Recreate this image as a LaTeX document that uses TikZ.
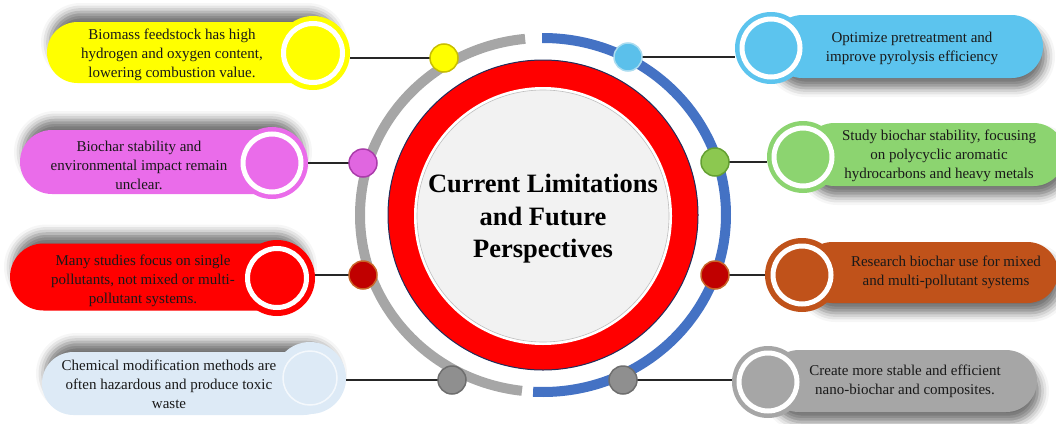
\documentclass[tikz,border=0pt]{standalone}
\usepackage{fontspec}
\setmainfont{Liberation Serif}
\usetikzlibrary{shapes.misc,shadows.blur}
\definecolor{cYel}{RGB}{255,255,0}
\definecolor{cMag}{RGB}{234,108,234}
\definecolor{cRed}{RGB}{255,0,0}
\definecolor{cLbl}{RGB}{221,234,246}
\definecolor{cSky}{RGB}{92,196,238}
\definecolor{cGrn}{RGB}{140,212,112}
\definecolor{cBrn}{RGB}{192,82,26}
\definecolor{cGry}{RGB}{166,166,166}
\definecolor{arcGray}{RGB}{166,166,166}
\definecolor{arcBlue}{RGB}{68,114,196}
\definecolor{navyEdge}{RGB}{31,45,90}
\definecolor{innerFill}{RGB}{242,242,242}
\begin{document}
\begin{tikzpicture}[x=1pt,y=-1pt,
  body/.style={rounded rectangle, inner sep=0pt, draw=none},
  endc/.style={circle, inner sep=0pt, draw=none},
  ring/.style={draw=white, line width=5pt},
  dotn/.style={circle, inner sep=0pt, minimum size=28pt, line width=1.5pt},
  txt/.style={align=center, font=\fontsize{15}{19}\selectfont, text=black!90, inner sep=0pt},
  link/.style={line width=1.4pt, draw=black!85},
  upshadow/.style={blur shadow={shadow xshift=3pt, shadow yshift=10pt, shadow blur radius=9pt, shadow opacity=55}},
  downshadow/.style={blur shadow={shadow xshift=3pt, shadow yshift=-10pt, shadow blur radius=9pt, shadow opacity=55}},
  arcline/.style={line width=10pt}
]
\useasboundingbox (0,0) rectangle (1056,423);

% ---------- central circle ----------
\node[circle, fill=cRed, draw=navyEdge, line width=1pt, minimum size=310pt, inner sep=0pt] (red) at (543,215) {};
\node[circle, fill=white, minimum size=258pt, inner sep=0pt] (rim) at (543,216) {};
\node[circle, fill=innerFill, draw=black!25, line width=0.6pt, minimum size=252pt, inner sep=0pt] (inner) at (543,216) {};
\node[align=center, inner sep=0pt, font=\fontsize{26.5}{32.5}\selectfont\bfseries] (title) at (543,219) {Current Limitations\\and Future\\Perspectives};

% ---------- arcs ----------
\draw[arcline, draw=arcGray] (543,215) ++(96.6:183 and 177) arc[start angle=96.6, end angle=264.4, x radius=183, y radius=177];
\draw[arcline, draw=arcBlue] (543,215) ++(-90.3:183 and 177) arc[start angle=-90.3, end angle=93.1, x radius=183, y radius=177];

% ---------- left boxes ----------
\node[body, upshadow, fill=cYel, minimum width=288pt, minimum height=61pt] (b1) at (191,52.5) {};
\node[endc, fill=cYel, minimum size=74pt] (c1) at (313,53) {};
\draw[ring] (c1) circle (29.5);
\node[txt] (t1) at (172,55) {Biomass feedstock has high\\hydrogen and oxygen content,\\lowering combustion value.};

\node[body, upshadow, fill=cMag, minimum width=280pt, minimum height=64pt] (b2) at (160,162) {};
\node[endc, fill=cMag, minimum size=72pt] (c2) at (272,163) {};
\draw[ring] (c2) circle (29);
\node[txt] (t2) at (139,165.5) {Biochar stability and\\environmental impact remain\\unclear.};

\node[body, upshadow, fill=cRed, minimum width=295pt, minimum height=67pt] (b3) at (157.5,277) {};
\node[endc, fill=cRed, minimum size=76pt] (c3) at (277,278) {};
\draw[ring] (c3) circle (29.5);
\node[txt] (t3) at (143,280.5) {Many studies focus on single\\pollutants, not mixed or multi-\\pollutant systems.};

\node[body, upshadow, fill=cLbl, minimum width=293pt, minimum height=63pt] (b4) at (188.5,383.5) {};
\node[endc, fill=cLbl, minimum size=72pt] (c4) at (310,378) {};
\draw[draw=white, line width=1.5pt, opacity=0.7] (c4) circle (27);
\node[txt] (t4) at (169,384) {Chemical modification methods are\\often hazardous and produce toxic\\waste};

% ---------- right boxes ----------
\node[body, downshadow, fill=cSky, minimum width=272pt, minimum height=63pt] (b5) at (907,46.5) {};
\node[endc, fill=cSky, minimum size=72pt] (c5) at (771,48) {};
\draw[ring] (c5) circle (29);
\node[txt] (t5) at (912,48.5) {Optimize pretreatment and\\improve pyrolysis efficiency};

\node[body, downshadow, fill=cGrn, minimum width=262pt, minimum height=63pt] (b6) at (934,154.5) {};
\node[endc, fill=cGrn, minimum size=72pt] (c6) at (803,157) {};
\draw[ring] (c6) circle (29);
\node[txt] (t6) at (939,155.5) {Study biochar stability, focusing\\on polycyclic aromatic\\hydrocarbons and heavy metals};

\node[body, downshadow, fill=cBrn, minimum width=256pt, minimum height=61pt] (b7) at (930,272.5) {};
\node[endc, fill=cBrn, minimum size=74pt] (c7) at (802,275) {};
\draw[ring] (c7) circle (29);
\node[txt] (t7) at (946,272.5) {Research biochar use for mixed\\and multi-pollutant systems};

\node[body, downshadow, fill=cGry, minimum width=269pt, minimum height=62pt] (b8) at (902.5,381) {};
\node[endc, fill=cGry, minimum size=72pt] (c8) at (768,382) {};
\draw[ring] (c8) circle (29);
\node[txt] (t8) at (905,381) {Create more stable and efficient\\nano-biochar and composites.};

% ---------- dots ----------
\coordinate (p1) at (444,58);
\coordinate (p2) at (363,163);
\coordinate (p3) at (363,275);
\coordinate (p4) at (452,380);
\coordinate (p5) at (628,57);
\coordinate (p6) at (715,162);
\coordinate (p7) at (715,275);
\coordinate (p8) at (623,380);

\draw[link] (p1) -- (p1 -| c1.east);
\draw[link] (p2) -- (p2 -| c2.east);
\draw[link] (p3) -- (p3 -| c3.east);
\draw[link] (p4) -- (p4 -| c4.east);
\draw[link] (p5) -- (p5 -| c5.west);
\draw[link] (p6) -- (p6 -| c6.west);
\draw[link] (p7) -- (p7 -| c7.west);
\draw[link] (p8) -- (p8 -| c8.west);

\node[dotn, fill=cYel, draw={rgb,255:red,200;green,190;blue,0}] (d1) at (p1) {};
\node[dotn, fill={rgb,255:red,224;green,102;blue,224}, draw={rgb,255:red,170;green,60;blue,170}] (d2) at (p2) {};
\node[dotn, fill={rgb,255:red,192;green,0;blue,0}, draw={rgb,255:red,200;green,100;blue,40}] (d3) at (p3) {};
\node[dotn, fill={rgb,255:red,143;green,143;blue,143}, draw={rgb,255:red,110;green,110;blue,110}] (d4) at (p4) {};
\node[dotn, fill={rgb,255:red,91;green,192;blue,235}, draw={rgb,255:red,170;green,220;blue,240}] (d5) at (p5) {};
\node[dotn, fill={rgb,255:red,140;green,200;blue,80}, draw={rgb,255:red,100;green,160;blue,50}] (d6) at (p6) {};
\node[dotn, fill={rgb,255:red,192;green,0;blue,0}, draw={rgb,255:red,200;green,100;blue,40}] (d7) at (p7) {};
\node[dotn, fill={rgb,255:red,143;green,143;blue,143}, draw={rgb,255:red,110;green,110;blue,110}] (d8) at (p8) {};
\end{tikzpicture}
\end{document}
